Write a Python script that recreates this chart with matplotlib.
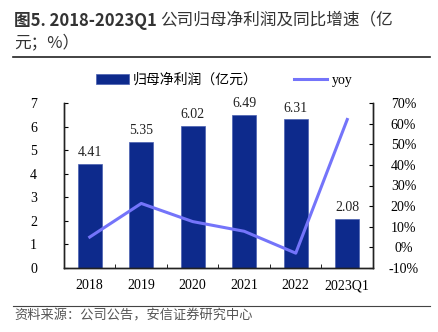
import matplotlib.pyplot as plt
import numpy as np

plt.rcParams['font.family'] = ['Liberation Serif', 'Noto Sans CJK SC']

years = ['2018', '2019', '2020', '2021', '2022', '2023Q1']
profit = [4.41, 5.35, 6.02, 6.49, 6.31, 2.08]
yoy = [5.0, 21.3, 12.5, 7.8, -2.8, 62.0]

bar_color = '#0d2a8c'
line_color = '#7474fa'
cjk = ['Noto Sans CJK SC', 'DejaVu Sans']

fig = plt.figure(figsize=(4.39, 3.32), dpi=100)
ax = fig.add_axes([64 / 439, 1 - 268 / 332, 309 / 439, 165 / 332])
ax2 = ax.twinx()

x = np.arange(len(years))
bars = ax.bar(x, profit, width=0.47, color=bar_color, edgecolor='#4a5fb0', linewidth=0.5)
for xi, v in zip(x, profit):
    ax.text(xi, v + 0.2, f'{v:.2f}', ha='center', va='bottom', fontsize=10, color='#222222')

ln, = ax2.plot(x, yoy, color=line_color, linewidth=2.2)

ax.set_xlim(-0.5, len(years) - 0.5)
ax.set_ylim(0, 7)
ax.set_yticks(range(0, 8))
ax2.set_ylim(-10, 70)
ax2.set_yticks(range(-10, 71, 10))
ax2.set_yticklabels([f'{t}%' for t in range(-10, 71, 10)])

ax.set_xticks(x)
ax.set_xticklabels(years)
ax.set_xticks(np.arange(-0.5, len(years), 1), minor=True)
ax.tick_params(axis='x', which='major', length=0, pad=8, labelsize=10)
ax.tick_params(axis='x', which='minor', direction='in', length=3)
ax.tick_params(axis='y', direction='in', length=3, pad=22, labelsize=10)
ax2.tick_params(axis='y', direction='in', length=3, pad=22, labelsize=10)
for t in ax.get_yticklabels():
    t.set_horizontalalignment('center')
for t in ax2.get_yticklabels():
    t.set_horizontalalignment('center')

for a in (ax, ax2):
    a.spines['top'].set_visible(False)
    for s in ('left', 'right', 'bottom'):
        a.spines[s].set_linewidth(1.0)
        a.spines[s].set_color('#222222')

leg = fig.legend([bars, ln], ['归母净利润（亿元）', 'yoy'], loc='center', bbox_to_anchor=(224 / 439, 1 - 80 / 332),
                 ncol=2, frameon=False, fontsize=10, handlelength=2.4, handleheight=0.7,
                 columnspacing=2.6, handletextpad=0.3)
leg.get_texts()[0].set_family(cjk)

fig.text(14 / 439, 1 - 21 / 332, '图5. 2018-2023Q1', fontsize=12, fontweight='bold',
         family=['Noto Sans CJK SC', 'DejaVu Sans'], color='#333333', va='center')
fig.text(160 / 439, 1 - 21 / 332, '公司归母净利润及同比增速（亿', fontsize=12,
         family=cjk, color='#333333', va='center')
fig.text(14 / 439, 1 - 43 / 332, '元；%）', fontsize=12, family=cjk, color='#333333', va='center')
fig.add_artist(plt.Line2D([13 / 439, 430 / 439], [1 - 57 / 332, 1 - 57 / 332], color='#222222', linewidth=1.2))
fig.add_artist(plt.Line2D([13 / 439, 430 / 439], [1 - 306 / 332, 1 - 306 / 332], color='#444444', linewidth=0.8))
fig.text(14 / 439, 1 - 316 / 332, '资料来源：公司公告，安信证券研究中心', fontsize=9.5, family=cjk,
         color='#555555', va='center')

fig.savefig('out.png', dpi=100)
